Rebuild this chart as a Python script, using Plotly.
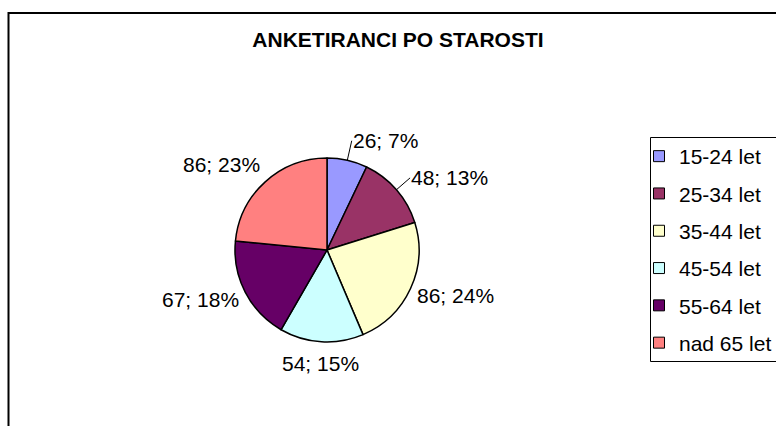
import math
import plotly.graph_objects as go

categories = ["15-24 let", "25-34 let", "35-44 let", "45-54 let", "55-64 let", "nad 65 let"]
counts = [26, 48, 86, 54, 67, 86]
pct_labels = ["7%", "13%", "24%", "15%", "18%", "23%"]
colors = ["#9999FF", "#993366", "#FFFFCC", "#CCFFFF", "#660066", "#FF8080"]
title_text = "ANKETIRANCI PO STAROSTI"

# label styling (distance of each data label from the pie edge, leader line on/off)
label_gap = [20, 18, 6, 9, 6, 6]
leader = [True, True, False, False, False, False]

W, H = 776, 426
FONT = "Liberation Sans, Arial, sans-serif"

def px(x):
    return x / W

def py(y):
    return 1 - y / H

cx, cy, r = 327, 250, 92

fig = go.Figure()
fig.add_trace(go.Pie(
    labels=categories,
    values=counts,
    textinfo="none",
    textposition="none",
    marker=dict(colors=colors, line=dict(color="black", width=1.5)),
    sort=False,
    direction="clockwise",
    rotation=0,
    showlegend=False,
    hoverinfo="label+value+percent",
    domain=dict(x=[px(cx - r), px(cx + r)], y=[py(cy + r), py(cy - r)]),
))

# data labels placed around the pie from each slice's mid-angle
total = sum(counts)
annotations = []
cum = 0
for val, pct, gap, lead in zip(counts, pct_labels, label_gap, leader):
    mid = (cum + val / 2) / total * 2 * math.pi
    cum += val
    s, c = math.sin(mid), math.cos(mid)
    qx, qy = cx + r * s, cy - r * c              # point on slice edge
    tx, ty = qx + gap * s, qy - gap * c          # label anchor point
    xa = "left" if s > 0.15 else ("right" if s < -0.15 else "center")
    if lead:
        ya = "middle"
    else:
        ya = "middle" if abs(c) < 0.7 else ("bottom" if c > 0 else "top")
        if ya == "middle":
            ty -= c * 10
    text = f"{val}; {pct}"
    common = dict(text=text, xref="paper", yref="paper", xanchor=xa, yanchor=ya,
                  font=dict(family=FONT, size=21, color="black"), borderpad=0)
    if lead:
        annotations.append(dict(common, x=px(qx), y=py(qy), showarrow=True,
                                ax=tx - qx, ay=ty - qy, arrowhead=0, arrowwidth=1,
                                arrowcolor="black", standoff=0, startstandoff=0))
    else:
        annotations.append(dict(common, x=px(tx), y=py(ty), showarrow=False))

# legend entries (one group each so spacing can be controlled)
for name, col in zip(categories, colors):
    fig.add_trace(go.Scatter(
        x=[None], y=[None], mode="markers", name=name,
        legendgroup=name,
        marker=dict(symbol="square", size=11, color=col, line=dict(color="black", width=1)),
    ))

def open_box(x0, y0, x1, y1):
    # three-sided outline (top, left, bottom) in paper coordinates
    return f"M {x1} {y0} L {x0} {y0} L {x0} {y1} L {x1} {y1}"

fig.update_layout(
    width=W, height=H,
    margin=dict(l=0, r=0, t=0, b=0, autoexpand=False),
    paper_bgcolor="white", plot_bgcolor="white",
    xaxis=dict(visible=False), yaxis=dict(visible=False),
    title=dict(text="<b>" + title_text + "</b>", x=px(398), y=py(40),
               xanchor="center", yanchor="middle",
               font=dict(family=FONT, size=21, color="black")),
    legend=dict(x=px(639), y=py(136), xanchor="left", yanchor="top",
                font=dict(family=FONT, size=21, color="black"),
                bgcolor="rgba(0,0,0,0)", borderwidth=0,
                tracegroupgap=7, itemclick=False, itemdoubleclick=False),
    annotations=annotations,
    shapes=[
        dict(type="path", xref="paper", yref="paper",
             path=f"M 1.05 {py(13)} L {px(8.5)} {py(13)} L {px(8.5)} -0.05",
             line=dict(color="black", width=2), layer="below"),
        dict(type="path", xref="paper", yref="paper",
             path=open_box(px(650.5), py(137.5), 1.05, py(361.5)),
             line=dict(color="black", width=1), layer="below"),
    ],
    showlegend=True,
)

fig.write_html("out.html",
               config={"displayModeBar": False},
               post_script="document.body.style.margin='0';document.body.style.overflow='hidden';")
